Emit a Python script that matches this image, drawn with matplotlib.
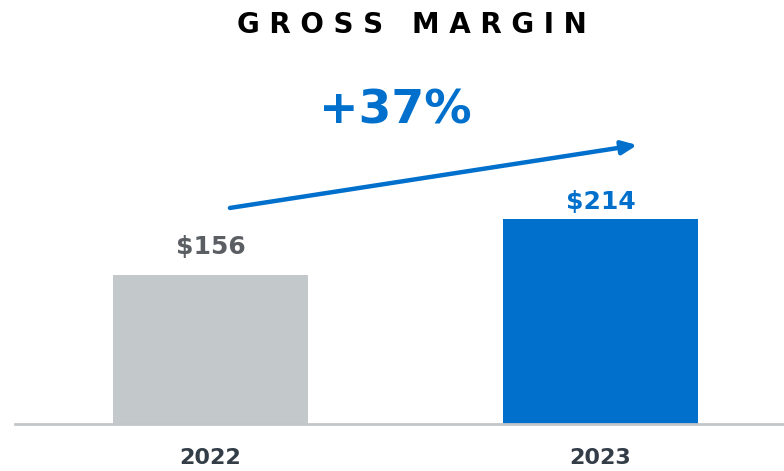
import matplotlib.pyplot as plt

# data
years = ["2022", "2023"]
margin = [156, 214]
growth_label = "+37%"
bar_colors = ["#c3c8ca", "#0070cc"]
label_colors = ["#5b5f63", "#0070cc"]
label_gap = [16, 5]

fig = plt.figure(figsize=(7.84, 4.71), dpi=100)
ax = fig.add_axes([15 / 784, 47 / 471, 769 / 784, 424 / 471])

x = range(len(years))
ax.bar(x, margin, width=0.5, color=bar_colors)
ax.set_xlim(-0.501, 1.4705)
ax.set_ylim(0, 443)

# value labels above bars
for i, v in enumerate(margin):
    ax.text(i, v + label_gap[i], "$" + str(v), ha="center", va="bottom", fontsize=18,
            fontweight="heavy", color=label_colors[i])

# baseline and year labels
ax.axhline(0, color="#c3c6c8", lw=2, clip_on=False)
for i, yr in enumerate(years):
    ax.text(i, -36, yr, ha="center", va="center", fontsize=16,
            fontweight="heavy", color="#333d47")

# growth arrow
ax.annotate("", xy=(1.094, margin[1] * 1.362), xytext=(0.05, margin[0] * 1.447),
            arrowprops=dict(arrowstyle="-|>,head_length=0.9,head_width=0.4",
                            color="#0070cc", lw=3.2, shrinkA=0, shrinkB=0))
ax.text(0.475, 327, growth_label, ha="center", va="center", fontsize=34,
        fontweight="heavy", color="#0070cc")

ax.axis("off")

title = "   ".join(" ".join(w) for w in "GROSS MARGIN".split())
fig.text(412 / 784, 1 - 25 / 471, title,
         ha="center", va="center", fontsize=20, fontweight="heavy", color="black")

fig.savefig("out.png", dpi=100)
